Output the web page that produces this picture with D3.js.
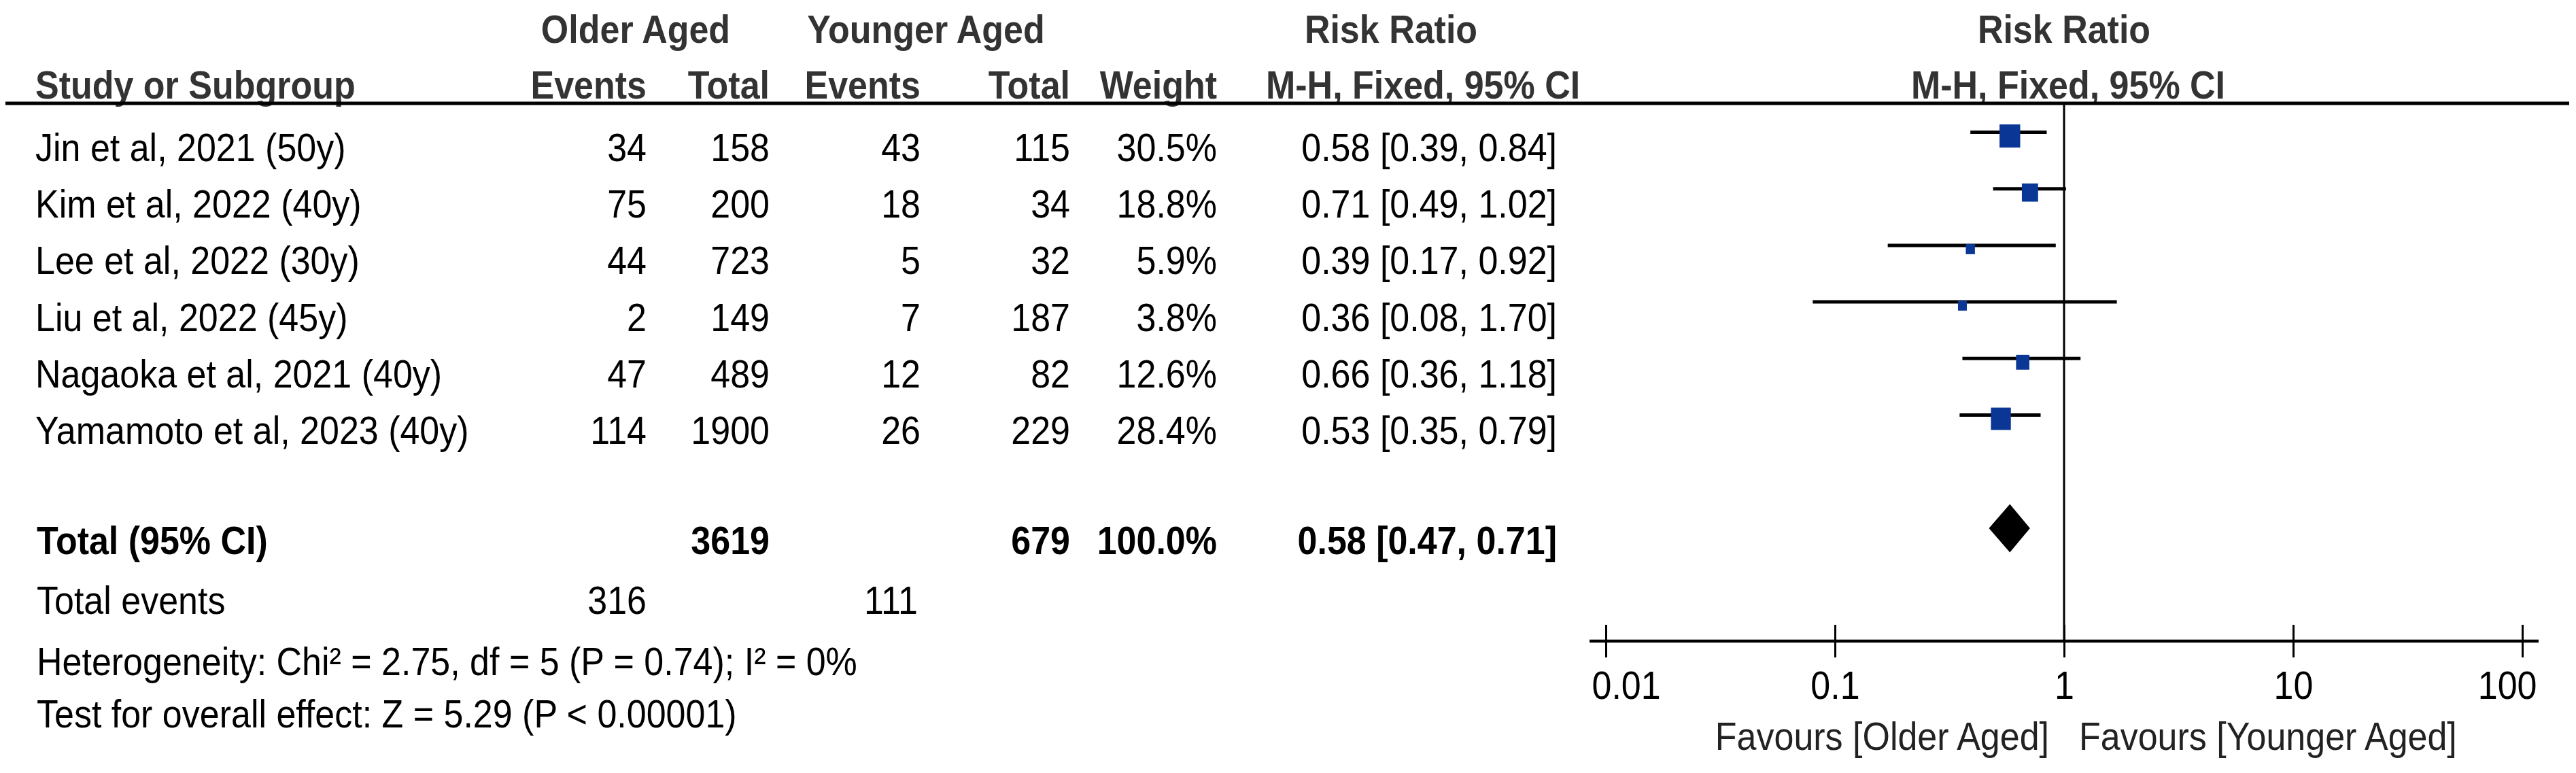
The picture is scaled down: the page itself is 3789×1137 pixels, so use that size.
<!DOCTYPE html>
<html>
<head>
<meta charset="utf-8">
<script src="https://cdn.jsdelivr.net/npm/d3@7"></script>
<style>
  html, body { margin: 0; padding: 0; background: #fff; }
  svg text { font-family: "Liberation Sans", Arial, sans-serif; font-size: 52px; fill: #000; }
  svg text.hd { font-weight: bold; fill: #333; }
  svg text.bold { font-weight: bold; }
  svg text.fav { fill: #222; }
</style>
</head>
<body>
<div id="chart"></div>
<script>
// study rows
const studies = [
    'Jin et al, 2021 (50y)',
    'Kim et al, 2022 (40y)',
    'Lee et al, 2022 (30y)',
    'Liu et al, 2022 (45y)',
    'Nagaoka et al, 2021 (40y)',
    'Yamamoto et al, 2023 (40y)'
];
const olderEvents = [34, 75, 44, 2, 47, 114];
const olderTotal = [158, 200, 723, 149, 489, 1900];
const youngerEvents = [43, 18, 5, 7, 12, 26];
const youngerTotal = [115, 34, 32, 187, 82, 229];
const weights = [30.5, 18.8, 5.9, 3.8, 12.6, 28.4];
const riskRatio = [0.58, 0.71, 0.39, 0.36, 0.66, 0.53];
const ciLow = [0.39, 0.49, 0.17, 0.08, 0.36, 0.35];
const ciHigh = [0.84, 1.02, 0.92, 1.70, 1.18, 0.79];

// pooled result
const pooled = [0.58, 0.47, 0.71];          // RR, lower, upper
const totalParticipants = [3619, 679];      // older, younger
const totalEvents = [316, 111];
const totalWeight = '100.0%';
const heterogeneityText = 'Heterogeneity: Chi² = 2.75, df = 5 (P = 0.74); I² = 0%';
const overallText = 'Test for overall effect: Z = 5.29 (P < 0.00001)';

// axis
const xTicks = [0.01, 0.1, 1, 10, 100];
const tickLabels = ['0.01', '0.1', '1', '10', '100'];

const svgWidth = 3789;
const svgHeight = 1137;
// the reference is a bit taller than wide glyphs would give, so stretch y
const SY = 1.12;
const Y = v => v / SY;

const svg = d3.select('#chart')
    .append('svg')
    .attr('width', svgWidth)
    .attr('height', svgHeight)
    .attr('viewBox', `0 0 ${svgWidth} ${svgHeight / SY}`)
    .attr('preserveAspectRatio', 'none');

const col = {
    study: 52,
    oEvents: 951,
    oTotal: 1132,
    yEvents: 1354,
    yTotal: 1574,
    weight: 1790,
    ci: 2290
};

const yRow = d3.scaleLinear()
    .domain([0, studies.length - 1])
    .range([Y(237), Y(653)]);

const xScale = d3.scaleLog()
    .domain([0.01, 100])
    .range([2362, 3710]);

const sizeScale = d3.scaleSqrt()
    .domain([0, 30.5])
    .range([0, 30.4]);

const fmt = d3.format('.2f');
const ciLabel = (r, lo, hi) => `${fmt(r)} [${fmt(lo)}, ${fmt(hi)}]`;

// ---- header ----
const head1 = Y(63);
const head2 = Y(145);

function txt(x, y, s, anchor, cls) {
    return svg.append('text')
        .attr('x', x)
        .attr('y', y)
        .attr('text-anchor', anchor || 'start')
        .attr('class', cls || null)
        .text(s);
}

txt(935, head1, 'Older Aged', 'middle', 'hd');
txt(1362, head1, 'Younger Aged', 'middle', 'hd');
txt(2046, head1, 'Risk Ratio', 'middle', 'hd');
txt(xScale(1), head1, 'Risk Ratio', 'middle', 'hd');

txt(col.study, head2, 'Study or Subgroup', 'start', 'hd');
txt(col.oEvents, head2, 'Events', 'end', 'hd');
txt(col.oTotal, head2, 'Total', 'end', 'hd');
txt(col.yEvents, head2, 'Events', 'end', 'hd');
txt(col.yTotal, head2, 'Total', 'end', 'hd');
txt(col.weight, head2, 'Weight', 'end', 'hd');
txt(1862, head2, 'M-H, Fixed, 95% CI', 'start', 'hd');
txt(xScale(1) + 6, head2, 'M-H, Fixed, 95% CI', 'middle', 'hd');

svg.append('line')
    .attr('x1', 8)
    .attr('x2', 3779)
    .attr('y1', Y(152))
    .attr('y2', Y(152))
    .attr('stroke', '#000')
    .attr('stroke-width', 4.5);

// ---- study table ----
const rows = svg.append('g').selectAll('g')
    .data(studies)
    .enter().append('g');

rows.append('text').attr('x', col.study).attr('y', (d, i) => yRow(i)).text(d => d);
rows.append('text').attr('x', col.oEvents).attr('y', (d, i) => yRow(i)).attr('text-anchor', 'end').text((d, i) => olderEvents[i]);
rows.append('text').attr('x', col.oTotal).attr('y', (d, i) => yRow(i)).attr('text-anchor', 'end').text((d, i) => olderTotal[i]);
rows.append('text').attr('x', col.yEvents).attr('y', (d, i) => yRow(i)).attr('text-anchor', 'end').text((d, i) => youngerEvents[i]);
rows.append('text').attr('x', col.yTotal).attr('y', (d, i) => yRow(i)).attr('text-anchor', 'end').text((d, i) => youngerTotal[i]);
rows.append('text').attr('x', col.weight).attr('y', (d, i) => yRow(i)).attr('text-anchor', 'end').text((d, i) => weights[i].toFixed(1) + '%');
rows.append('text').attr('x', col.ci).attr('y', (d, i) => yRow(i)).attr('text-anchor', 'end')
    .text((d, i) => ciLabel(riskRatio[i], ciLow[i], ciHigh[i]));

// ---- totals ----
const totalY = Y(815);
const eventsY = Y(903);
txt(col.study + 2, totalY, 'Total (95% CI)', 'start', 'bold');
txt(col.oTotal, totalY, totalParticipants[0], 'end', 'bold');
txt(col.yTotal, totalY, totalParticipants[1], 'end', 'bold');
txt(col.weight, totalY, totalWeight, 'end', 'bold');
txt(col.ci, totalY, ciLabel(pooled[0], pooled[1], pooled[2]), 'end', 'bold');

txt(col.study + 2, eventsY, 'Total events');
txt(col.oEvents, eventsY, totalEvents[0], 'end');
txt(col.yEvents - 4, eventsY, totalEvents[1], 'end');

txt(col.study + 2, Y(993), heterogeneityText);
txt(col.study + 2, Y(1070), overallText);

// ---- forest plot ----
const plot = svg.append('g');

// line of no effect
plot.append('line')
    .attr('x1', xScale(1))
    .attr('x2', xScale(1))
    .attr('y1', Y(152))
    .attr('y2', Y(943))
    .attr('stroke', '#000')
    .attr('stroke-width', 3);

plot.selectAll('.ci')
    .data(studies)
    .enter().append('line')
    .attr('class', 'ci')
    .attr('x1', (d, i) => xScale(ciLow[i]))
    .attr('x2', (d, i) => xScale(ciHigh[i]))
    .attr('y1', (d, i) => yRow(i) - Y(42.5))
    .attr('y2', (d, i) => yRow(i) - Y(42.5))
    .attr('stroke', '#000')
    .attr('stroke-width', 4.5);

plot.selectAll('.sq')
    .data(studies)
    .enter().append('rect')
    .attr('class', 'sq')
    .attr('x', (d, i) => xScale(riskRatio[i]) - Math.max(13, sizeScale(weights[i])) / 2)
    .attr('y', (d, i) => yRow(i) - Y(37) - Math.max(13, sizeScale(weights[i])) / 2)
    .attr('width', (d, i) => Math.max(13, sizeScale(weights[i])))
    .attr('height', (d, i) => Math.max(13, sizeScale(weights[i])))
    .attr('fill', '#0a3796');

// pooled diamond
const dy = totalY - Y(38);
const dh = Y(35.5);
plot.append('path')
    .attr('d', `M${xScale(pooled[1])},${dy} L${xScale(pooled[0])},${dy - dh} L${xScale(pooled[2])},${dy} L${xScale(pooled[0])},${dy + dh} Z`)
    .attr('fill', '#000');

// axis
const axisY = Y(943);
plot.append('line')
    .attr('x1', xScale(0.01) - 24)
    .attr('x2', xScale(100) + 24)
    .attr('y1', axisY)
    .attr('y2', axisY)
    .attr('stroke', '#000')
    .attr('stroke-width', 4);

const xAxis = d3.axisBottom(xScale)
    .tickValues(xTicks)
    .tickFormat((d, i) => tickLabels[i])
    .tickSizeOuter(0)
    .tickSizeInner(Y(24));

const axisG = plot.append('g')
    .attr('transform', `translate(0, ${axisY})`)
    .call(xAxis);

axisG.select('.domain').remove();
axisG.selectAll('.tick line')
    .attr('y1', -Y(24))
    .attr('y2', Y(24))
    .attr('stroke', '#000')
    .attr('stroke-width', 3);
axisG.selectAll('.tick text')
    .attr('y', Y(1028 - 943))
    .attr('dy', 0);
axisG.selectAll('.tick text').filter((d, i) => i === 0)
    .attr('text-anchor', 'start').attr('x', -21);
axisG.selectAll('.tick text').filter((d, i) => i === xTicks.length - 1)
    .attr('text-anchor', 'end').attr('x', 21);

txt(xScale(1) - 22, Y(1103), 'Favours [Older Aged]', 'end', 'fav');
txt(xScale(1) + 22, Y(1103), 'Favours [Younger Aged]', 'start', 'fav');
</script>
</body>
</html>
